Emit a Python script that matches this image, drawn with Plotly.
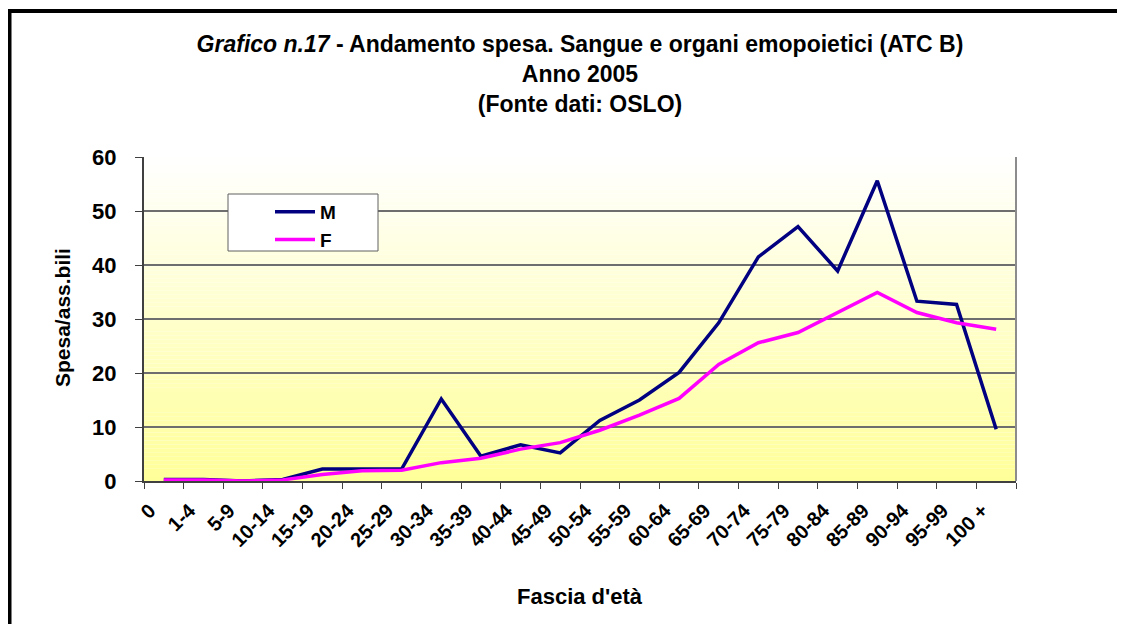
import plotly.graph_objects as go

categories = ["0", "1-4", "5-9", "10-14", "15-19", "20-24", "25-29", "30-34", "35-39",
              "40-44", "45-49", "50-54", "55-59", "60-64", "65-69", "70-74", "75-79",
              "80-84", "85-89", "90-94", "95-99", "100 +"]
m_values = [0.3, 0.3, 0.0, 0.3, 2.2, 2.2, 2.2, 15.2, 4.6, 6.7, 5.2, 11.2, 15.0, 20.1,
            29.3, 41.5, 47.1, 38.9, 55.6, 33.3, 32.7, 9.6]
f_values = [0.2, 0.2, 0.0, 0.2, 1.2, 1.9, 2.0, 3.4, 4.2, 5.9, 7.1, 9.4, 12.2, 15.3,
            21.6, 25.6, 27.5, 31.2, 34.9, 31.2, 29.3, 28.1]
y_ticks = [0, 10, 20, 30, 40, 50, 60]

OFF = 8  # default page body margin
W, H = 1125 - OFF, 624 - OFF
L, R, T, B = 144, 1016, 157, 481
FONT = "Liberation Sans, Arial, sans-serif"

fig = go.Figure()
fig.add_trace(go.Scatter(x=categories, y=m_values, name="<b>M</b>", mode="lines",
                         line=dict(color="#000080", width=3.5)))
fig.add_trace(go.Scatter(x=categories, y=f_values, name="<b>F</b>", mode="lines",
                         line=dict(color="#FF00FF", width=3.5)))

pw, ph = R - L, B - T
def px_x(x):
    return (x - L) / pw
def px_y(y):
    return (B - y) / ph

shapes = []
N = 80
for i in range(N):
    t = (i + 0.5) / N
    b = int(round(255 - (255 - 153) * t))
    shapes.append(dict(type="rect", xref="paper", yref="paper",
                       x0=0, x1=1, y0=1 - (i + 1) / N, y1=1 - i / N,
                       fillcolor=f"rgb(255,255,{b})", line=dict(width=0), layer="below"))
shapes.append(dict(type="line", xref="paper", yref="paper", x0=1, x1=1, y0=0, y1=1,
                   line=dict(color="#8c8c8c", width=2), layer="above"))
shapes.append(dict(type="rect", xref="paper", yref="paper",
                   x0=px_x(9.5), x1=px_x(1140), y0=px_y(650), y1=px_y(11),
                   line=dict(color="black", width=4), fillcolor="rgba(0,0,0,0)"))
shapes.append(dict(type="rect", xref="paper", yref="paper",
                   x0=px_x(228), x1=px_x(378), y0=px_y(251), y1=px_y(194),
                   line=dict(color="#606060", width=1), fillcolor="white", layer="above"))

annotations = [
    dict(text="<b>Fascia d'età</b>", xref="paper", yref="paper",
         x=px_x(580), y=px_y(596), xanchor="center", yanchor="middle", showarrow=False,
         font=dict(size=22, family=FONT, color="black")),
    dict(text="<b>Spesa/ass.bili</b>", xref="paper", yref="paper", textangle=-90,
         x=px_x(62), y=px_y(318), xanchor="center", yanchor="middle", showarrow=False,
         font=dict(size=21, family=FONT, color="black")),
]

fig.update_layout(
    width=W, height=H,
    margin=dict(l=L - OFF, r=W - (R - OFF), t=T - OFF, b=H - (B - OFF), autoexpand=False),
    paper_bgcolor="white",
    plot_bgcolor="rgba(0,0,0,0)",
    font=dict(family=FONT, color="black"),
    title=dict(
        text="<i>Grafico n.17</i> - Andamento spesa. Sangue e organi emopoietici (ATC B)<br>"
             "Anno 2005<br>(Fonte dati: OSLO)",
        x=0.5, xref="paper", xanchor="center", y=1 - (52 - OFF) / H, yanchor="middle",
        font=dict(size=23, family=FONT, color="black", weight="bold"),
    ),
    showlegend=True,
    legend=dict(x=px_x(270), y=px_y(193), xanchor="left", yanchor="top",
                bgcolor="rgba(0,0,0,0)", borderwidth=0,
                font=dict(size=19, family=FONT, color="black"),
                tracegroupgap=0, itemwidth=40),
    shapes=shapes,
    annotations=annotations,
    xaxis=dict(
        type="category", categoryorder="array", categoryarray=categories,
        tickvals=categories, ticktext=[f"<b>{c}</b>" for c in categories],
        tickangle=-45, tickfont=dict(size=20, family=FONT, color="black"),
        ticks="outside", ticklen=6, tickcolor="#404040", tickson="boundaries",
        showline=True, linecolor="#404040", linewidth=2, showgrid=False,
        ticklabelstandoff=8, ticklabelshift=-14,
        range=[-0.5, len(categories) - 0.5], fixedrange=True,
    ),
    yaxis=dict(
        range=[0, 60], tickvals=y_ticks, ticktext=[f"<b>{v}</b>" for v in y_ticks],
        tickfont=dict(size=22, family=FONT, color="black"),
        ticks="outside", ticklen=7, tickcolor="#404040",
        showline=True, linecolor="#404040", linewidth=2,
        showgrid=True, gridcolor="#6e6e6e", gridwidth=1.5, zeroline=False,
        ticklabelstandoff=14,
        fixedrange=True,
    ),
)

fig.write_html("out.html")
